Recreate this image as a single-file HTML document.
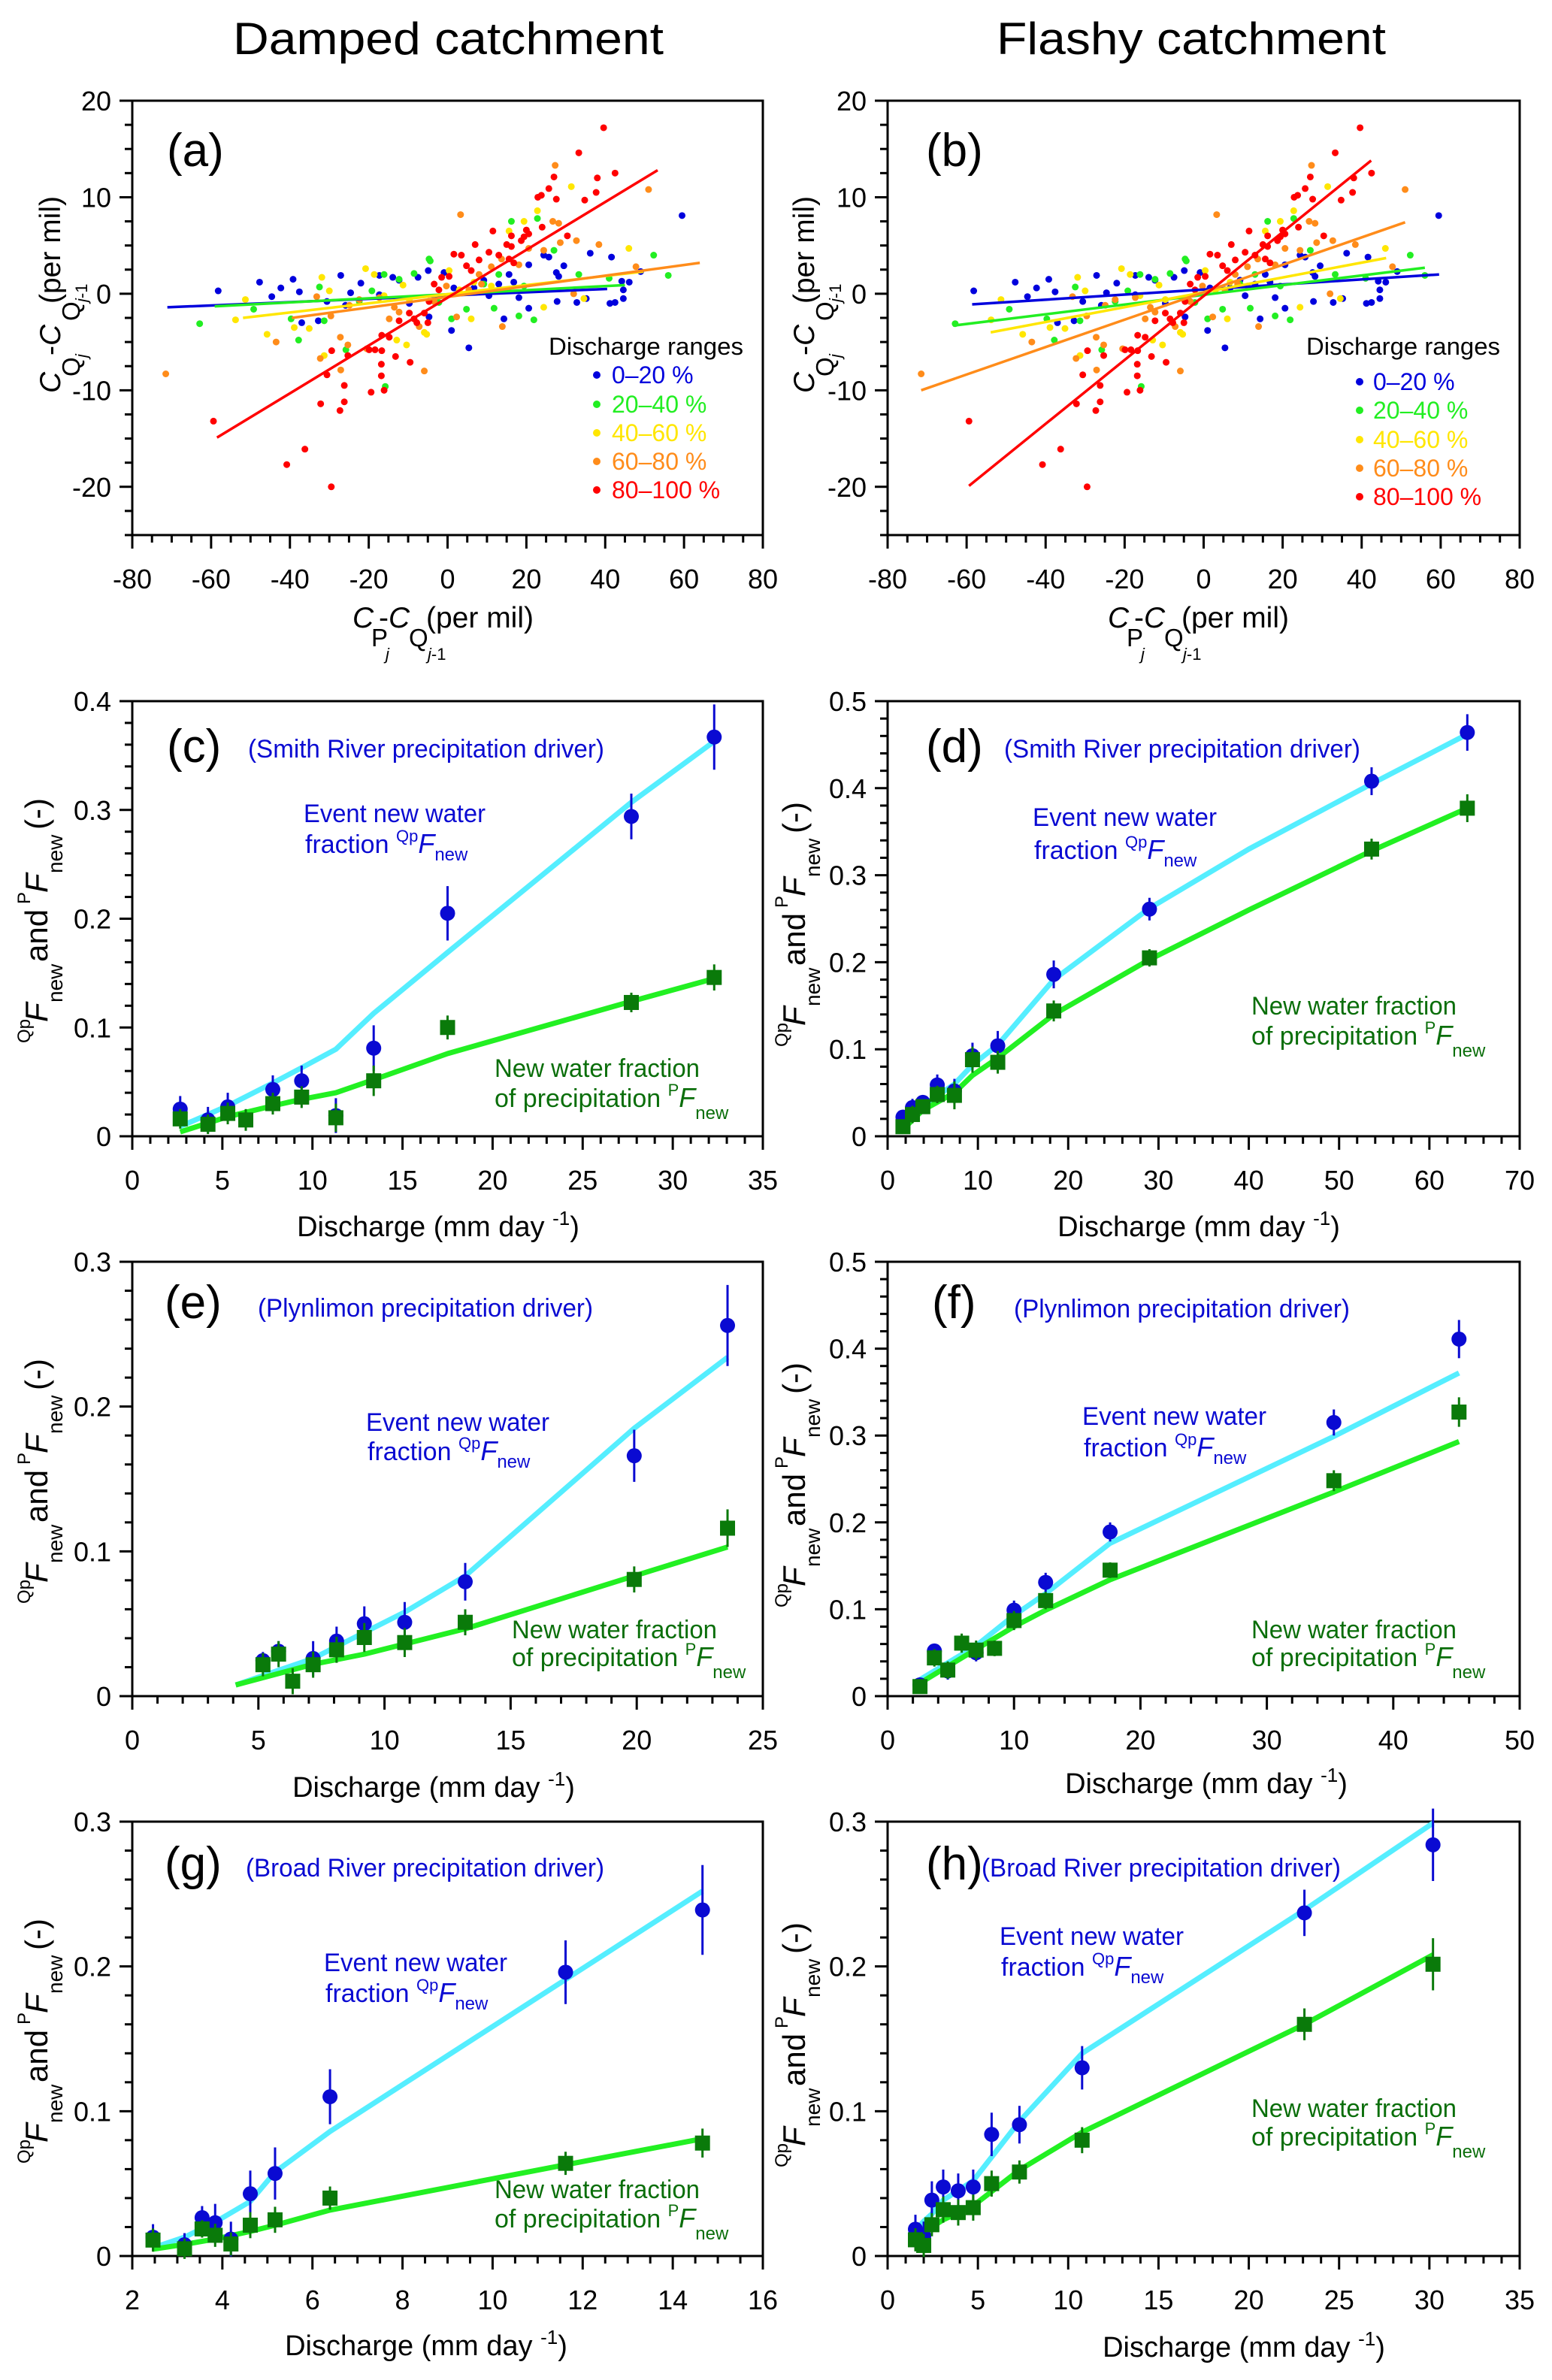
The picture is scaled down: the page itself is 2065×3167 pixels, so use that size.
<!DOCTYPE html>
<html><head><meta charset="utf-8"><title>New water fractions</title>
<style>
html,body{margin:0;padding:0;background:#fff;}
svg{display:block;font-family:"Liberation Sans",Arial,sans-serif;}
</style></head>
<body>
<svg id="chart" xmlns="http://www.w3.org/2000/svg" width="2065" height="3167" viewBox="0 0 2065 3167">
<rect x="0" y="0" width="2065" height="3167" fill="#fff"/>

<text x="310" y="72" font-size="60" textLength="573" lengthAdjust="spacingAndGlyphs">Damped catchment</text>
<text x="1326" y="72" font-size="60" textLength="518" lengthAdjust="spacingAndGlyphs">Flashy catchment</text>

<!-- panel labels -->
<text x="222" y="221" font-size="62">(a)</text>
<text x="1232" y="221" font-size="62">(b)</text>
<text x="222" y="1014" font-size="62">(c)</text>
<text x="1232" y="1014" font-size="62">(d)</text>
<text x="219" y="1754" font-size="62">(e)</text>
<text x="1240" y="1754" font-size="62">(f)</text>
<text x="219" y="2501" font-size="62">(g)</text>
<text x="1232" y="2501" font-size="62">(h)</text>

<!-- legends -->
<g font-size="32">
<text x="730" y="472" textLength="259" lengthAdjust="spacingAndGlyphs">Discharge ranges</text>
<circle cx="794" cy="499" r="5" fill="#0000dd"/><text x="814" y="510" fill="#0000dd">0–20 %</text>
<circle cx="794" cy="538" r="5" fill="#22ee22"/><text x="814" y="549" fill="#22ee22">20–40 %</text>
<circle cx="794" cy="576" r="5" fill="#ffe600"/><text x="814" y="587" fill="#ffe600">40–60 %</text>
<circle cx="794" cy="614" r="5" fill="#ff8c1a"/><text x="814" y="625" fill="#ff8c1a">60–80 %</text>
<circle cx="794" cy="652" r="5" fill="#ff0000"/><text x="814" y="663" fill="#ff0000">80–100 %</text>
</g>
<g font-size="32">
<text x="1738" y="472" textLength="258" lengthAdjust="spacingAndGlyphs">Discharge ranges</text>
<circle cx="1809" cy="508" r="5" fill="#0000dd"/><text x="1827" y="519" fill="#0000dd">0–20 %</text>
<circle cx="1809" cy="546" r="5" fill="#22ee22"/><text x="1827" y="557" fill="#22ee22">20–40 %</text>
<circle cx="1809" cy="585" r="5" fill="#ffe600"/><text x="1827" y="596" fill="#ffe600">40–60 %</text>
<circle cx="1809" cy="623" r="5" fill="#ff8c1a"/><text x="1827" y="634" fill="#ff8c1a">60–80 %</text>
<circle cx="1809" cy="661" r="5" fill="#ff0000"/><text x="1827" y="672" fill="#ff0000">80–100 %</text>
</g>

<!-- scatter axis titles -->
<g>
<text x="469" y="835" font-size="39" font-style="italic">C</text>
<text x="494" y="860" font-size="33">P</text>
<text x="513" y="878" font-size="22" font-style="italic">j</text>
<text x="504" y="835" font-size="39">-<tspan font-style="italic">C</tspan></text>
<text x="544" y="860" font-size="33">Q</text>
<text x="569" y="878" font-size="22"><tspan font-style="italic">j</tspan>-1</text>
<text x="567" y="835" font-size="39">(per mil)</text>
</g>
<g>
<text x="1474" y="835" font-size="39" font-style="italic">C</text>
<text x="1499" y="860" font-size="33">P</text>
<text x="1518" y="878" font-size="22" font-style="italic">j</text>
<text x="1509" y="835" font-size="39">-<tspan font-style="italic">C</tspan></text>
<text x="1549" y="860" font-size="33">Q</text>
<text x="1574" y="878" font-size="22"><tspan font-style="italic">j</tspan>-1</text>
<text x="1572" y="835" font-size="39">(per mil)</text>
</g>
<g transform="translate(80,523) rotate(-90)">
<text x="0" y="0" font-size="39" font-style="italic">C</text>
<text x="22" y="26" font-size="33">Q</text>
<text x="47" y="36" font-size="22" font-style="italic">j</text>
<text x="50" y="0" font-size="39">-<tspan font-style="italic">C</tspan></text>
<text x="96" y="26" font-size="33">Q</text>
<text x="121" y="36" font-size="22"><tspan font-style="italic">j</tspan>-1</text>
<text x="119" y="0" font-size="39">(per mil)</text>
</g>
<g transform="translate(1083,523) rotate(-90)">
<text x="0" y="0" font-size="39" font-style="italic">C</text>
<text x="22" y="26" font-size="33">Q</text>
<text x="47" y="36" font-size="22" font-style="italic">j</text>
<text x="50" y="0" font-size="39">-<tspan font-style="italic">C</tspan></text>
<text x="96" y="26" font-size="33">Q</text>
<text x="121" y="36" font-size="22"><tspan font-style="italic">j</tspan>-1</text>
<text x="119" y="0" font-size="39">(per mil)</text>
</g>

<!-- line-panel annotations -->
<g font-size="34">
<text x="330" y="1008" fill="#0a0ad2" textLength="474" lengthAdjust="spacingAndGlyphs">(Smith River precipitation driver)</text>
<text x="404" y="1094" fill="#0a0ad2" textLength="242" lengthAdjust="spacingAndGlyphs">Event new water</text>
<text x="406" y="1135" fill="#0a0ad2">fraction <tspan font-size="22" dy="-15">Qp</tspan><tspan font-size="36" font-style="italic" dy="15">F</tspan><tspan font-size="24" dy="10">new</tspan></text>
<text x="658" y="1433" fill="#0a6e0a" textLength="273" lengthAdjust="spacingAndGlyphs">New water fraction</text>
<text x="658" y="1473" fill="#0a6e0a">of precipitation <tspan font-size="22" dy="-15">P</tspan><tspan font-size="36" font-style="italic" dy="15">F</tspan><tspan font-size="24" dy="16">new</tspan></text>

<text x="1336" y="1008" fill="#0a0ad2" textLength="474" lengthAdjust="spacingAndGlyphs">(Smith River precipitation driver)</text>
<text x="1374" y="1099" fill="#0a0ad2" textLength="245" lengthAdjust="spacingAndGlyphs">Event new water</text>
<text x="1376" y="1143" fill="#0a0ad2">fraction <tspan font-size="22" dy="-15">Qp</tspan><tspan font-size="36" font-style="italic" dy="15">F</tspan><tspan font-size="24" dy="10">new</tspan></text>
<text x="1665" y="1350" fill="#0a6e0a" textLength="273" lengthAdjust="spacingAndGlyphs">New water fraction</text>
<text x="1665" y="1390" fill="#0a6e0a">of precipitation <tspan font-size="22" dy="-15">P</tspan><tspan font-size="36" font-style="italic" dy="15">F</tspan><tspan font-size="24" dy="16">new</tspan></text>

<text x="343" y="1752" fill="#0a0ad2" textLength="446" lengthAdjust="spacingAndGlyphs">(Plynlimon precipitation driver)</text>
<text x="487" y="1904" fill="#0a0ad2" textLength="244" lengthAdjust="spacingAndGlyphs">Event new water</text>
<text x="489" y="1943" fill="#0a0ad2">fraction <tspan font-size="22" dy="-15">Qp</tspan><tspan font-size="36" font-style="italic" dy="15">F</tspan><tspan font-size="24" dy="10">new</tspan></text>
<text x="681" y="2180" fill="#0a6e0a" textLength="273" lengthAdjust="spacingAndGlyphs">New water fraction</text>
<text x="681" y="2217" fill="#0a6e0a">of precipitation <tspan font-size="22" dy="-15">P</tspan><tspan font-size="36" font-style="italic" dy="15">F</tspan><tspan font-size="24" dy="16">new</tspan></text>

<text x="1349" y="1753" fill="#0a0ad2" textLength="447" lengthAdjust="spacingAndGlyphs">(Plynlimon precipitation driver)</text>
<text x="1440" y="1896" fill="#0a0ad2" textLength="245" lengthAdjust="spacingAndGlyphs">Event new water</text>
<text x="1442" y="1938" fill="#0a0ad2">fraction <tspan font-size="22" dy="-15">Qp</tspan><tspan font-size="36" font-style="italic" dy="15">F</tspan><tspan font-size="24" dy="10">new</tspan></text>
<text x="1665" y="2180" fill="#0a6e0a" textLength="273" lengthAdjust="spacingAndGlyphs">New water fraction</text>
<text x="1665" y="2217" fill="#0a6e0a">of precipitation <tspan font-size="22" dy="-15">P</tspan><tspan font-size="36" font-style="italic" dy="15">F</tspan><tspan font-size="24" dy="16">new</tspan></text>

<text x="327" y="2497" fill="#0a0ad2" textLength="477" lengthAdjust="spacingAndGlyphs">(Broad River precipitation driver)</text>
<text x="431" y="2623" fill="#0a0ad2" textLength="244" lengthAdjust="spacingAndGlyphs">Event new water</text>
<text x="433" y="2664" fill="#0a0ad2">fraction <tspan font-size="22" dy="-15">Qp</tspan><tspan font-size="36" font-style="italic" dy="15">F</tspan><tspan font-size="24" dy="10">new</tspan></text>
<text x="658" y="2925" fill="#0a6e0a" textLength="273" lengthAdjust="spacingAndGlyphs">New water fraction</text>
<text x="658" y="2964" fill="#0a6e0a">of precipitation <tspan font-size="22" dy="-15">P</tspan><tspan font-size="36" font-style="italic" dy="15">F</tspan><tspan font-size="24" dy="16">new</tspan></text>

<text x="1306" y="2497" fill="#0a0ad2" textLength="478" lengthAdjust="spacingAndGlyphs">(Broad River precipitation driver)</text>
<text x="1330" y="2588" fill="#0a0ad2" textLength="245" lengthAdjust="spacingAndGlyphs">Event new water</text>
<text x="1332" y="2629" fill="#0a0ad2">fraction <tspan font-size="22" dy="-15">Qp</tspan><tspan font-size="36" font-style="italic" dy="15">F</tspan><tspan font-size="24" dy="10">new</tspan></text>
<text x="1665" y="2817" fill="#0a6e0a" textLength="273" lengthAdjust="spacingAndGlyphs">New water fraction</text>
<text x="1665" y="2855" fill="#0a6e0a">of precipitation <tspan font-size="22" dy="-15">P</tspan><tspan font-size="36" font-style="italic" dy="15">F</tspan><tspan font-size="24" dy="16">new</tspan></text>
</g>

<!-- x-axis titles of line panels -->
<g font-size="38" text-anchor="middle">
<text x="583" y="1645">Discharge (mm day <tspan font-size="26" dy="-15">-1</tspan><tspan dy="15">)</tspan></text>
<text x="1595" y="1645">Discharge (mm day <tspan font-size="26" dy="-15">-1</tspan><tspan dy="15">)</tspan></text>
<text x="577" y="2391">Discharge (mm day <tspan font-size="26" dy="-15">-1</tspan><tspan dy="15">)</tspan></text>
<text x="1605" y="2386">Discharge (mm day <tspan font-size="26" dy="-15">-1</tspan><tspan dy="15">)</tspan></text>
<text x="567" y="3134">Discharge (mm day <tspan font-size="26" dy="-15">-1</tspan><tspan dy="15">)</tspan></text>
<text x="1655" y="3136">Discharge (mm day <tspan font-size="26" dy="-15">-1</tspan><tspan dy="15">)</tspan></text>
</g>

<!-- y-axis titles of line panels -->
<g transform="translate(63,1388) rotate(-90)">
<text x="0" y="-23" font-size="24">Qp</text><text x="28" y="0" font-size="42" font-style="italic">F</text><text x="54" y="20" font-size="28">new</text><text x="108" y="0" font-size="42">and</text><text x="185" y="-23" font-size="24">P</text><text x="200" y="0" font-size="42" font-style="italic">F</text><text x="226" y="20" font-size="28">new</text><text x="284" y="0" font-size="42">(-)</text>
</g>
<g transform="translate(1071,1393) rotate(-90)">
<text x="0" y="-23" font-size="24">Qp</text><text x="28" y="0" font-size="42" font-style="italic">F</text><text x="54" y="20" font-size="28">new</text><text x="108" y="0" font-size="42">and</text><text x="185" y="-23" font-size="24">P</text><text x="200" y="0" font-size="42" font-style="italic">F</text><text x="226" y="20" font-size="28">new</text><text x="284" y="0" font-size="42">(-)</text>
</g>
<g transform="translate(63,2134) rotate(-90)">
<text x="0" y="-23" font-size="24">Qp</text><text x="28" y="0" font-size="42" font-style="italic">F</text><text x="54" y="20" font-size="28">new</text><text x="108" y="0" font-size="42">and</text><text x="185" y="-23" font-size="24">P</text><text x="200" y="0" font-size="42" font-style="italic">F</text><text x="226" y="20" font-size="28">new</text><text x="284" y="0" font-size="42">(-)</text>
</g>
<g transform="translate(1071,2139) rotate(-90)">
<text x="0" y="-23" font-size="24">Qp</text><text x="28" y="0" font-size="42" font-style="italic">F</text><text x="54" y="20" font-size="28">new</text><text x="108" y="0" font-size="42">and</text><text x="185" y="-23" font-size="24">P</text><text x="200" y="0" font-size="42" font-style="italic">F</text><text x="226" y="20" font-size="28">new</text><text x="284" y="0" font-size="42">(-)</text>
</g>
<g transform="translate(63,2879) rotate(-90)">
<text x="0" y="-23" font-size="24">Qp</text><text x="28" y="0" font-size="42" font-style="italic">F</text><text x="54" y="20" font-size="28">new</text><text x="108" y="0" font-size="42">and</text><text x="185" y="-23" font-size="24">P</text><text x="200" y="0" font-size="42" font-style="italic">F</text><text x="226" y="20" font-size="28">new</text><text x="284" y="0" font-size="42">(-)</text>
</g>
<g transform="translate(1071,2884) rotate(-90)">
<text x="0" y="-23" font-size="24">Qp</text><text x="28" y="0" font-size="42" font-style="italic">F</text><text x="54" y="20" font-size="28">new</text><text x="108" y="0" font-size="42">and</text><text x="185" y="-23" font-size="24">P</text><text x="200" y="0" font-size="42" font-style="italic">F</text><text x="226" y="20" font-size="28">new</text><text x="284" y="0" font-size="42">(-)</text>
</g>
</svg>

<script>
// ---------- scatter data (shared by panels a and b) ----------
const scatBlueX=[-58.2,-47.7,-42.3,-44.6,-39.2,-37.6,-37,-32.8,-30.6,-27.1,-25.9,-24.6,-22,-17.3,-17.3,-13.9,-12.3,-9.7,-7.5,-4.9,-4.7,-3.4,-0.9,1,5.4,1.6,6.7,9.2,10.5,13,14.3,15.6,16.8,20.6,24.4,25.7,27.6,28.2,29.5,27.8,32.8,36.2,35.2,41.6,41.2,42.5,44.2,44.6,44.6,46.1,49,59.5,20.6,18.1];
const scatBlueY=[0.3,1.2,0.6,-0.3,1.5,0.2,-3,-2.8,-0.8,1.9,-1.2,0.1,1.1,1.9,-0.1,1.7,1.4,-1,1.7,2.4,-2.4,-0.8,2.2,-3.8,-5.6,0.6,0.6,1.4,-0.2,1,-2.6,2,1.2,3,4,3.8,2.2,1.8,2.9,-0.8,-0.9,4.2,-0.5,3.8,-1,-0.9,1.3,0.4,-0.5,1.2,2.3,8.1,-1.5,-0.4];
const scatGreenX=[-62.9,-49.2,-39.7,-37.8,-32.5,-31.3,-22.4,-19.2,-16.1,-12.3,-8.5,-4.7,-4.4,-2.2,1,4.8,9.2,11.8,16.2,22.8,27,18.1,21.9,33.3,41,52.3,56,-15.8,-25.8,13,19.4];
const scatGreenY=[-3.1,-1.6,-2.6,-4.8,0.7,-2.8,-0.8,0.3,2,1.5,2.1,3.6,3.4,-0.9,-2.6,-1.6,1,-1.5,7.5,7.8,4.5,-2.3,-2.7,2,1.6,4,1.9,-9.6,-5.8,2,0.8];
const scatYellowX=[-51.3,-53.8,-45.8,-38.9,-35.1,-31.9,-30,-20.8,-18.6,-16.1,-11.3,-9.7,-12.9,-10.4,-5.3,-5.9,0.4,3,6.7,15.6,19.4,22.8,31.4,46,24.4,34.6,6,11.1,-31.3];
const scatYellowY=[-0.6,-2.7,-4.2,-3.5,-3.6,1.7,0.3,2.6,2,-0.2,0.9,-0.6,-4.8,-5.3,-4.2,-4,2.4,0.4,1.2,6.5,7.5,8.6,11.1,4.7,-1.4,-0.5,-2.6,0.8,-6.4];
const scatOrangeX=[-71.5,3.3,27.3,51,47.8,38.4,28.2,26.7,28.6,32.7,24.4,20.6,18.1,13.7,11.1,8,8.6,5.4,2.3,13.9,-5.9,-14.8,-12.3,-13.5,-17.3,-22.4,-24.9,-27.2,-27.1,-25.3,-32.3,-43.5,-29.6,-33.2,-20.5,-7.2,-3.4,-0.3,32];
const scatOrangeY=[-8.3,8.2,13.3,10.8,2.8,5.1,7.3,7.5,5.3,5.5,4.5,4.7,3,3.6,2.8,2,1,0.4,-2.4,-3.4,-8,-2.6,-1.9,-1.4,-0.4,-0.6,-1.2,-4.5,-7.9,-5.3,-6.7,-5,-2.3,-0.3,-5.7,-3.4,-0.8,0.8,0];
const scatRedX=[39.6,33.3,42.5,27,38,25.7,23.8,22.9,27.6,37.7,34.8,24,30.4,20,20.6,19.4,18.7,11.5,16.2,15,16.2,10.5,7,1.6,3.5,8,13,15.6,16.8,4.8,6,0.4,-1.5,-3.4,-2.2,-4.7,-5.9,-8.5,-7.8,-9.7,-5,-12.3,-14.8,-16.7,-19.9,-18.4,-16.7,-16.8,-13.2,-9.5,-16.8,-16.1,-19.4,-26.2,-26.2,-27.3,-32.2,-30.6,-29.4,-25.3,-59.4,-36.2,-40.8,-29.5];
const scatRedY=[17.2,14.6,12.5,12.1,12,10.9,10.2,10,9.8,10.5,9.7,6.9,6,6.6,6.2,5.9,5.5,6.5,6,5.1,4.9,4.3,5.1,4.1,4,3.5,4,3.6,3.2,2.9,2.4,1.8,1.7,1,0.4,-0.8,-2,-2.6,-3,-2,-3,-2.8,-4.5,-4.3,-5.8,-5.8,-5.9,-7.3,-6.5,-7.1,-8.5,-10,-10.2,-9.5,-11.2,-12.1,-11.4,-8.4,-5.9,-6.4,-13.2,-16.1,-17.7,-20];
// regression lines [x0, y0, x1, y1] per discharge range
const regA_blue=[-71.1,-1.4,40.5,0.5];
const regA_green=[-59.1,-1.3,45,0.9];
const regA_yellow=[-51.9,-2.5,49.7,2.3];
const regA_orange=[-39.5,-2.5,64,3.2];
const regA_red=[-58.5,-14.9,53.3,12.8];
const regB_blue=[-58.6,-1.1,59.6,2];
const regB_green=[-63.4,-3.3,56,2.7];
const regB_yellow=[-53.9,-4,46.2,3.7];
const regB_orange=[-71.5,-10,51,7.4];
const regB_red=[-59.4,-19.9,42.4,13.8];

// ---------- tick values ----------
const scatXTicks=[-80,-60,-40,-20,0,20,40,60,80];
const scatYTicks=[-20,-10,0,10,20];
const c_xTicks=[0,5,10,15,20,25,30,35];
const c_yTicks=[0,0.1,0.2,0.3,0.4];
const d_xTicks=[0,10,20,30,40,50,60,70];
const d_yTicks=[0,0.1,0.2,0.3,0.4,0.5];
const e_xTicks=[0,5,10,15,20,25];
const e_yTicks=[0,0.1,0.2,0.3];
const f_xTicks=[0,10,20,30,40,50];
const f_yTicks=[0,0.1,0.2,0.3,0.4,0.5];
const g_xTicks=[2,4,6,8,10,12,14,16];
const g_yTicks=[0,0.1,0.2,0.3];
const h_xTicks=[0,5,10,15,20,25,30,35];
const h_yTicks=[0,0.1,0.2,0.3];

// ---------- panel (c) ----------
const c_qpX=[2.66,4.2,5.3,7.8,9.4,11.3,13.4,17.5,27.7,32.3];
const c_qp=[0.025,0.015,0.027,0.043,0.051,0.019,0.081,0.205,0.294,0.367];
const c_qpErr=[0.012,0.012,0.013,0.013,0.014,0.016,0.021,0.025,0.021,0.03];
const c_pX=[2.66,4.2,5.3,6.3,7.8,9.4,11.3,13.4,17.5,27.7,32.3];
const c_p=[0.016,0.011,0.021,0.015,0.030,0.036,0.017,0.051,0.100,0.123,0.146];
const c_pErr=[0.009,0.009,0.01,0.01,0.01,0.01,0.013,0.014,0.011,0.009,0.012];
const c_lineX=[2.66,5.3,7.8,9.4,11.3,13.4,17.5,27.7,32.3];
const c_lineQp=[0.009,0.028,0.049,0.063,0.08,0.113,0.169,0.307,0.363];
const c_lineP=[0.004,0.018,0.028,0.034,0.04,0.052,0.076,0.124,0.145];
// ---------- panel (d) ----------
const d_qpX=[1.7,2.75,3.9,5.5,7.4,9.4,12.2,18.4,29,53.6,64.2];
const d_qp=[0.022,0.033,0.039,0.059,0.052,0.0925,0.104,0.186,0.261,0.408,0.464];
const d_qpErr=[0.008,0.01,0.008,0.012,0.014,0.015,0.017,0.016,0.013,0.016,0.021];
const d_pX=[1.7,2.75,3.9,5.5,7.4,9.4,12.2,18.4,29,53.6,64.2];
const d_p=[0.011,0.025,0.034,0.048,0.047,0.088,0.085,0.144,0.205,0.33,0.377];
const d_pErr=[0.008,0.01,0.008,0.01,0.016,0.015,0.013,0.012,0.01,0.012,0.016];
const d_lineX=[1.7,3.9,7.4,9.4,12.2,18.4,29,40,53.6,64.2];
const d_lineQp=[0.015,0.035,0.06,0.082,0.105,0.18,0.262,0.33,0.405,0.462];
const d_lineP=[0.008,0.03,0.05,0.07,0.09,0.14,0.203,0.26,0.328,0.377];
// ---------- panel (e) ----------
const e_qpX=[5.18,5.8,7.17,8.1,9.2,10.8,13.2,19.9,23.6];
const e_qp=[0.0245,0.031,0.026,0.038,0.05,0.051,0.079,0.166,0.256];
const e_qpErr=[0.006,0.007,0.012,0.01,0.012,0.014,0.013,0.018,0.028];
const e_pX=[5.18,5.8,6.36,7.17,8.1,9.2,10.8,13.2,19.9,23.6];
const e_p=[0.0217,0.029,0.0103,0.0217,0.032,0.0405,0.037,0.051,0.0806,0.116];
const e_pErr=[0.008,0.009,0.009,0.009,0.009,0.01,0.01,0.009,0.009,0.013];
const e_lineX=[4.1,7.17,9.2,10.8,13.2,19.9,23.6];
const e_lineQp=[0.0077,0.026,0.044,0.058,0.083,0.185,0.234];
const e_lineP=[0.0077,0.022,0.029,0.036,0.0465,0.083,0.103];
// ---------- panel (f) ----------
const f_qpX=[2.56,3.7,4.76,7,10,12.5,17.6,35.3,45.2];
const f_qp=[0.013,0.052,0.029,0.05,0.099,0.131,0.189,0.315,0.411];
const f_qpErr=[0.008,0.008,0.01,0.01,0.011,0.011,0.011,0.015,0.022];
const f_pX=[2.56,3.7,4.76,5.86,7,8.46,10,12.5,17.6,35.3,45.2];
const f_p=[0.011,0.044,0.03,0.061,0.053,0.055,0.087,0.11,0.145,0.248,0.327];
const f_pErr=[0.008,0.01,0.01,0.011,0.011,0.009,0.011,0.01,0.009,0.012,0.017];
const f_lineX=[2.56,7,10,12.5,17.6,35.3,45.2];
const f_lineQp=[0.019,0.058,0.093,0.118,0.176,0.299,0.372];
const f_lineP=[0.015,0.054,0.08,0.099,0.134,0.235,0.293];
// ---------- panel (g) ----------
const g_qpX=[2.46,3.16,3.55,3.84,4.19,4.62,5.17,6.39,11.62,14.66];
const g_qp=[0.013,0.0078,0.0265,0.023,0.0117,0.043,0.057,0.11,0.196,0.239];
const g_qpErr=[0.009,0.008,0.008,0.013,0.012,0.016,0.018,0.019,0.022,0.031];
const g_pX=[2.46,3.16,3.55,3.84,4.19,4.62,5.17,6.39,11.62,14.66];
const g_p=[0.011,0.005,0.0187,0.0143,0.0083,0.0213,0.025,0.04,0.064,0.078];
const g_pErr=[0.008,0.007,0.006,0.008,0.008,0.009,0.009,0.008,0.008,0.01];
const g_lineX=[2.46,3.16,3.84,4.62,5.17,6.39,11.62,14.66];
const g_lineQp=[0.0057,0.013,0.0234,0.0377,0.058,0.086,0.191,0.252];
const g_lineP=[0.0047,0.008,0.0117,0.017,0.0213,0.0317,0.063,0.081];
// ---------- panel (h) ----------
const h_qpX=[1.54,2.0,2.45,3.08,3.91,4.74,5.76,7.3,10.77,23.08,30.2];
const h_qp=[0.0185,0.0138,0.0386,0.0477,0.045,0.0477,0.084,0.0907,0.130,0.237,0.284];
const h_qpErr=[0.01,0.01,0.013,0.012,0.012,0.012,0.015,0.013,0.015,0.016,0.025];
const h_pX=[1.54,2.0,2.45,3.08,3.91,4.74,5.76,7.3,10.77,23.08,30.2];
const h_p=[0.0112,0.0073,0.0216,0.032,0.030,0.0334,0.050,0.058,0.080,0.160,0.2015];
const h_pErr=[0.008,0.008,0.008,0.009,0.009,0.009,0.009,0.008,0.009,0.011,0.018];
const h_lineX=[1.54,2.0,2.45,3.08,4.74,7.3,10.77,23.08,30.2];
const h_lineQp=[0.0177,0.024,0.029,0.0386,0.052,0.093,0.14,0.239,0.299];
const h_lineP=[0.0138,0.016,0.020,0.025,0.0347,0.0594,0.0855,0.160,0.208];

const NS='http://www.w3.org/2000/svg';
const svg=document.getElementById('chart');
function mk(tag,parent){const e=document.createElementNS(NS,tag);(parent||svg).appendChild(e);return e;}
function sx(p,v){return p.L+(v-p.x0)/(p.x1-p.x0)*(p.R-p.L);}
function sy(p,v){return p.B-(v-p.y0)/(p.y1-p.y0)*(p.B-p.T);}

const geo={
 a:{L:176,R:1015,T:134,B:712,x0:-80,x1:80,y0:-25,y1:20,xm:5,ym:2.5},
 b:{L:1181,R:2022,T:134,B:712,x0:-80,x1:80,y0:-25,y1:20,xm:5,ym:2.5},
 c:{L:176,R:1015,T:933,B:1512,x0:0,x1:35,y0:0,y1:0.4,xm:1,ym:0.02},
 d:{L:1181,R:2022,T:933,B:1512,x0:0,x1:70,y0:0,y1:0.5,xm:2,ym:0.02},
 e:{L:176,R:1015,T:1679,B:2257,x0:0,x1:25,y0:0,y1:0.3,xm:1,ym:0.02},
 f:{L:1181,R:2022,T:1679,B:2257,x0:0,x1:50,y0:0,y1:0.5,xm:2,ym:0.02},
 g:{L:176,R:1015,T:2424,B:3002,x0:2,x1:16,y0:0,y1:0.3,xm:0.5,ym:0.02},
 h:{L:1181,R:2022,T:2424,B:3002,x0:0,x1:35,y0:0,y1:0.3,xm:1,ym:0.02}
};

function drawAxes(key,xt,yt){
  const p=geo[key];
  const g=mk('g');
  
  
  const fr=mk('rect',g);
  
  
  fr.setAttribute('x',p.L);fr.setAttribute('y',p.T);fr.setAttribute('width',p.R-p.L);fr.setAttribute('height',p.B-p.T);
  fr.setAttribute('fill','none');fr.setAttribute('stroke','#000');fr.setAttribute('stroke-width','3');
  const isMaj=(arr,v)=>arr.some(m=>Math.abs(m-v)<1e-6);
  for(let i=0;;i++){
    const v=p.x0+i*p.xm; if(v>p.x1+1e-9)break;
    const maj=isMaj(xt,v);
    const t=mk('line',g);
    
    
    const X=sx(p,v);
    t.setAttribute('x1',X);t.setAttribute('x2',X);t.setAttribute('y1',p.B);t.setAttribute('y2',p.B+(maj?18:10));
    t.setAttribute('stroke','#000');t.setAttribute('stroke-width','3');
  }
  for(let i=0;;i++){
    const v=p.y0+i*p.ym; if(v>p.y1+1e-9)break;
    const maj=isMaj(yt,v);
    const t=mk('line',g);
    
    
    const Y=sy(p,v);
    t.setAttribute('y1',Y);t.setAttribute('y2',Y);t.setAttribute('x1',p.L);t.setAttribute('x2',p.L-(maj?17:10));
    t.setAttribute('stroke','#000');t.setAttribute('stroke-width','3');
  }
  xt.forEach(v=>{
    const t=mk('text',g);
    
    
    t.setAttribute('x',sx(p,v));t.setAttribute('y',p.B+71);
    t.setAttribute('text-anchor','middle');t.setAttribute('font-size','36');
    t.textContent=String(v);
  });
  yt.forEach(v=>{
    const t=mk('text',g);
    
    
    t.setAttribute('x',p.L-28);t.setAttribute('y',sy(p,v)+13);
    t.setAttribute('text-anchor','end');t.setAttribute('font-size','36');
    t.textContent=String(v);
  });
}

function drawScatter(key,regs){
  const p=geo[key];
  const sets=[[scatBlueX,scatBlueY,'#0000dd','blue'],[scatGreenX,scatGreenY,'#22ee22','green'],[scatYellowX,scatYellowY,'#ffe600','yellow'],[scatOrangeX,scatOrangeY,'#ff8c1a','orange'],[scatRedX,scatRedY,'#ff0000','red']];
  sets.forEach(s=>{
    s[0].forEach((xv,i)=>{
      const c=mk('circle');
      
      
      c.setAttribute('cx',sx(p,xv));c.setAttribute('cy',sy(p,s[1][i]));c.setAttribute('r','4.5');c.setAttribute('fill',s[2]);
    });
  });
  regs.forEach((r,i)=>{
    const l=mk('line');
    
    
    l.setAttribute('x1',sx(p,r[0]));l.setAttribute('y1',sy(p,r[1]));l.setAttribute('x2',sx(p,r[2]));l.setAttribute('y2',sy(p,r[3]));
    l.setAttribute('stroke',sets[i][2]);l.setAttribute('stroke-width','3.5');
  });
}

function drawLinePanel(key,qpX,qp,qpErr,pX,pv,pErr,lx,lqp,lp){
  const p=geo[key];
  const lines=[[lqp,'#55eeff','model-line-qp-'],[lp,'#22f022','model-line-p-']];
  lines.forEach(L=>{
    const pl=mk('polyline');
    
    
    pl.setAttribute('points',lx.map((x,i)=>sx(p,x)+','+sy(p,L[0][i])).join(' '));
    pl.setAttribute('fill','none');pl.setAttribute('stroke',L[1]);pl.setAttribute('stroke-width','7');pl.setAttribute('stroke-linejoin','round');
  });
  qpX.forEach((x,i)=>{
    const e=mk('line');
    
    
    e.setAttribute('x1',sx(p,x));e.setAttribute('x2',sx(p,x));e.setAttribute('y1',sy(p,qp[i]-qpErr[i]));e.setAttribute('y2',sy(p,qp[i]+qpErr[i]));
    e.setAttribute('stroke','#0a0ad2');e.setAttribute('stroke-width','3');
    const c=mk('circle');
    
    
    c.setAttribute('cx',sx(p,x));c.setAttribute('cy',sy(p,qp[i]));c.setAttribute('r','10');c.setAttribute('fill','#0a0ad2');
  });
  pX.forEach((x,i)=>{
    const e=mk('line');
    
    
    e.setAttribute('x1',sx(p,x));e.setAttribute('x2',sx(p,x));e.setAttribute('y1',sy(p,pv[i]-pErr[i]));e.setAttribute('y2',sy(p,pv[i]+pErr[i]));
    e.setAttribute('stroke','#0a7a0a');e.setAttribute('stroke-width','3');
    const s=mk('rect');
    
    
    s.setAttribute('x',sx(p,x)-10);s.setAttribute('y',sy(p,pv[i])-10);s.setAttribute('width','20');s.setAttribute('height','20');s.setAttribute('fill','#0a7a0a');
  });
}

drawAxes('a',scatXTicks,scatYTicks);
drawAxes('b',scatXTicks,scatYTicks);
drawScatter('a',[regA_blue,regA_green,regA_yellow,regA_orange,regA_red]);
drawScatter('b',[regB_blue,regB_green,regB_yellow,regB_orange,regB_red]);
drawAxes('c',c_xTicks,c_yTicks);
drawAxes('d',d_xTicks,d_yTicks);
drawAxes('e',e_xTicks,e_yTicks);
drawAxes('f',f_xTicks,f_yTicks);
drawAxes('g',g_xTicks,g_yTicks);
drawAxes('h',h_xTicks,h_yTicks);
drawLinePanel('c',c_qpX,c_qp,c_qpErr,c_pX,c_p,c_pErr,c_lineX,c_lineQp,c_lineP);
drawLinePanel('d',d_qpX,d_qp,d_qpErr,d_pX,d_p,d_pErr,d_lineX,d_lineQp,d_lineP);
drawLinePanel('e',e_qpX,e_qp,e_qpErr,e_pX,e_p,e_pErr,e_lineX,e_lineQp,e_lineP);
drawLinePanel('f',f_qpX,f_qp,f_qpErr,f_pX,f_p,f_pErr,f_lineX,f_lineQp,f_lineP);
drawLinePanel('g',g_qpX,g_qp,g_qpErr,g_pX,g_p,g_pErr,g_lineX,g_lineQp,g_lineP);
drawLinePanel('h',h_qpX,h_qp,h_qpErr,h_pX,h_p,h_pErr,h_lineX,h_lineQp,h_lineP);
</script>
</body></html>
